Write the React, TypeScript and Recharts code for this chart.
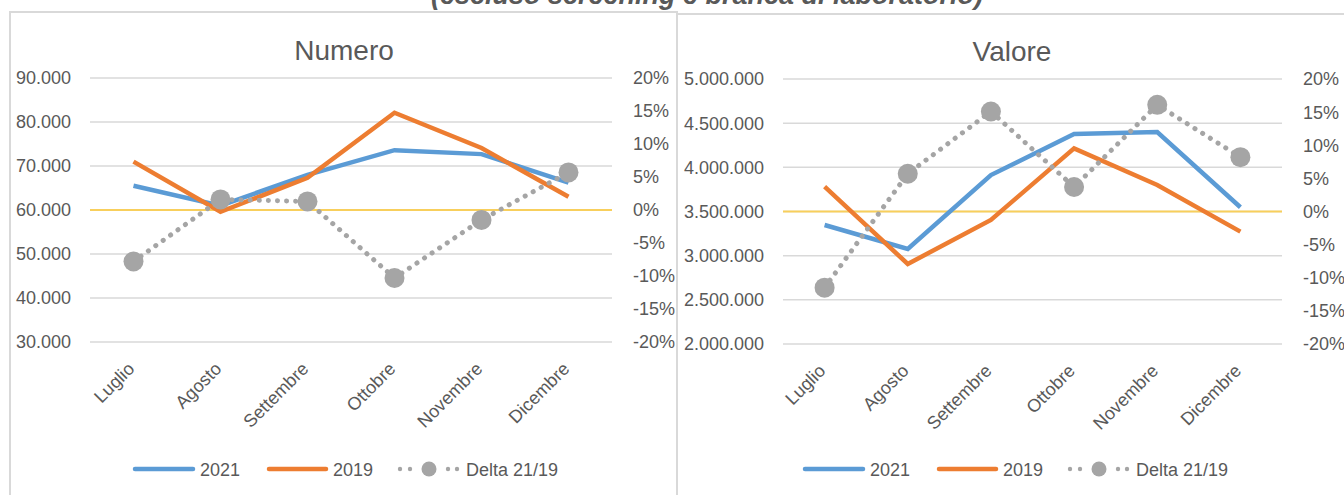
import React from 'react';
import { ComposedChart, Line, XAxis, YAxis, CartesianGrid, ReferenceLine } from 'recharts';

const months = ['Luglio', 'Agosto', 'Settembre', 'Ottobre', 'Novembre', 'Dicembre'];
const numero2021 = [65500, 61000, 68000, 73600, 72700, 66200];
const numero2019 = [71000, 59600, 67300, 82100, 74100, 63000];
const numeroDelta = [-0.078, 0.016, 0.013, -0.103, -0.015, 0.057];
const valore2021 = [3347000, 3076000, 3913000, 4377000, 4400000, 3548000];
const valore2019 = [3781000, 2906000, 3404000, 4215000, 3800000, 3272000];
const valoreDelta = [-0.115, 0.057, 0.151, 0.037, 0.161, 0.082];
const numeroTicks = [30000, 40000, 50000, 60000, 70000, 80000, 90000];
const valoreTicks = [2000000, 2500000, 3000000, 3500000, 4000000, 4500000, 5000000];
const deltaTicks = [-0.2, -0.15, -0.1, -0.05, 0, 0.05, 0.1, 0.15, 0.2];
const seriesNames = ['2021', '2019', 'Delta 21/19'];
const mainTitle = '(escluso screening e branca di laboratorio)';
const chartTitles = ['Numero', 'Valore'];

const BLUE = '#5B9BD5';
const ORANGE = '#ED7D31';
const GRAY = '#A5A5A5';
const TEXT = '#595959';
const GRID = '#D9D9D9';
const YELLOW = '#F8CF5C';
const FONT = '"Liberation Sans", Arial, sans-serif';

const fmtThousands = (v: number) => String(Math.round(v)).replace(/\B(?=(\d{3})+(?!\d))/g, '.');
const fmtPct = (v: number) => `${Math.round(v * 100)}%`;

const buildData = (a: number[], b: number[], d: number[]) =>
  months.map((m, i) => ({ month: m, s2021: a[i], s2019: b[i], delta: d[i] }));

const numeroData = buildData(numero2021, numero2019, numeroDelta);
const valoreData = buildData(valore2021, valore2019, valoreDelta);

const AngledTick = (props: any) => {
  const { x, y, payload } = props;
  return (
    <g transform={`translate(${x + 2},${y + 28})`}>
      <text x={0} y={0} textAnchor="end" transform="rotate(-45)" fill={TEXT} fontSize={18} fontFamily={FONT}>
        {payload.value}
      </text>
    </g>
  );
};

const DeltaDot = (p: any) => {
  if (p.cx == null || p.cy == null) return null;
  return <circle key={`d-${p.index}`} cx={p.cx} cy={p.cy} r={10} fill={GRAY} stroke="none" />;
};

type PanelProps = {
  left: number;
  top: number;
  width: number;
  height: number;
  marginTop: number;
  marginBottom: number;
  leftWidth: number;
  rightWidth: number;
  pad: number;
  data: any[];
  ticks: number[];
  domain: [number, number];
};

const Panel = (p: PanelProps) => (
  <div style={{ position: 'absolute', left: p.left, top: p.top, width: p.width, height: p.height }}>
    <ComposedChart
      width={p.width}
      height={p.height}
      data={p.data}
      margin={{ top: p.marginTop, right: 0, bottom: p.marginBottom, left: 0 }}
    >
      <CartesianGrid yAxisId="left" vertical={false} stroke={GRID} strokeWidth={1.5} />
      <XAxis
        dataKey="month"
        axisLine={false}
        tickLine={false}
        tickSize={0}
        tickMargin={0}
        interval={0}
        height={60}
        padding={{ left: p.pad, right: p.pad }}
        tick={<AngledTick />}
      />
      <YAxis
        yAxisId="left"
        orientation="left"
        width={p.leftWidth}
        domain={p.domain}
        ticks={p.ticks}
        axisLine={false}
        tickLine={false}
        tickSize={0}
        tickMargin={19}
        tickFormatter={fmtThousands}
        tick={{ fill: TEXT, fontSize: 18, fontFamily: FONT }}
        interval={0}
      />
      <YAxis
        yAxisId="right"
        orientation="right"
        width={p.rightWidth}
        domain={[-0.2, 0.2]}
        ticks={deltaTicks}
        axisLine={false}
        tickLine={false}
        tickSize={0}
        tickMargin={21}
        tickFormatter={fmtPct}
        tick={{ fill: TEXT, fontSize: 18, fontFamily: FONT, textAnchor: 'start' }}
        interval={0}
      />
      <ReferenceLine yAxisId="right" y={0} stroke={YELLOW} strokeWidth={2} />
      <Line
        yAxisId="left"
        dataKey="s2021"
        name={seriesNames[0]}
        stroke={BLUE}
        strokeWidth={4.5}
        dot={false}
        isAnimationActive={false}
      />
      <Line
        yAxisId="left"
        dataKey="s2019"
        name={seriesNames[1]}
        stroke={ORANGE}
        strokeWidth={4.5}
        dot={false}
        isAnimationActive={false}
      />
      <Line
        yAxisId="right"
        dataKey="delta"
        name={seriesNames[2]}
        stroke={GRAY}
        strokeWidth={5}
        strokeDasharray="0.1 9"
        strokeLinecap="round"
        dot={DeltaDot}
        isAnimationActive={false}
      />
    </ComposedChart>
  </div>
);

const LegendRow = ({ dx }: { dx: number }) => {
  const y = 469;
  return (
    <g fontFamily={FONT} fontSize={18} fill={TEXT}>
      <line x1={135 + dx} x2={193 + dx} y1={y} y2={y} stroke={BLUE} strokeWidth={4.5} strokeLinecap="round" />
      <text x={200 + dx} y={y + 6.5}>{seriesNames[0]}</text>
      <line x1={269 + dx} x2={326 + dx} y1={y} y2={y} stroke={ORANGE} strokeWidth={4.5} strokeLinecap="round" />
      <text x={333 + dx} y={y + 6.5}>{seriesNames[1]}</text>
      <circle cx={400 + dx} cy={y} r={2.2} fill={GRAY} />
      <circle cx={410 + dx} cy={y} r={2.2} fill={GRAY} />
      <circle cx={429 + dx} cy={y} r={7.5} fill={GRAY} />
      <circle cx={448 + dx} cy={y} r={2.2} fill={GRAY} />
      <circle cx={457 + dx} cy={y} r={2.2} fill={GRAY} />
      <text x={466 + dx} y={y + 6.5}>{seriesNames[2]}</text>
    </g>
  );
};

export default function App() {
  return (
    <div
      style={{
        position: 'fixed',
        left: 0,
        top: 0,
        width: 1344,
        height: 495,
        overflow: 'hidden',
        background: '#fff',
        fontFamily: FONT,
      }}
    >
      <div
        style={{
          position: 'absolute',
          left: 9,
          top: 11,
          width: 669,
          height: 600,
          border: `2px solid ${GRID}`,
          boxSizing: 'border-box',
        }}
      />
      <div
        style={{
          position: 'absolute',
          left: 676,
          top: 13,
          width: 700,
          height: 600,
          border: `2px solid ${GRID}`,
          boxSizing: 'border-box',
        }}
      />
      <Panel
        left={10}
        top={12}
        width={667}
        height={483}
        marginTop={66}
        marginBottom={93}
        leftWidth={80}
        rightWidth={65}
        pad={43.5}
        data={numeroData}
        ticks={numeroTicks}
        domain={[30000, 90000]}
      />
      <Panel
        left={679}
        top={14}
        width={665}
        height={481}
        marginTop={65}
        marginBottom={91}
        leftWidth={104}
        rightWidth={62}
        pad={41.6}
        data={valoreData}
        ticks={valoreTicks}
        domain={[2000000, 5000000]}
      />
      <svg
        width={1344}
        height={495}
        style={{ position: 'absolute', left: 0, top: 0, pointerEvents: 'none' }}
      >
        <text
          x={707}
          y={4}
          textAnchor="middle"
          fontFamily={FONT}
          fontSize={27}
          fontWeight="bold"
          fontStyle="italic"
          fill={TEXT}
        >
          {mainTitle}
        </text>
        <text x={344} y={60} textAnchor="middle" fontFamily={FONT} fontSize={28} fill={TEXT}>
          {chartTitles[0]}
        </text>
        <text x={1012} y={61} textAnchor="middle" fontFamily={FONT} fontSize={28} fill={TEXT}>
          {chartTitles[1]}
        </text>
        <LegendRow dx={0} />
        <LegendRow dx={670} />
      </svg>
    </div>
  );
}
